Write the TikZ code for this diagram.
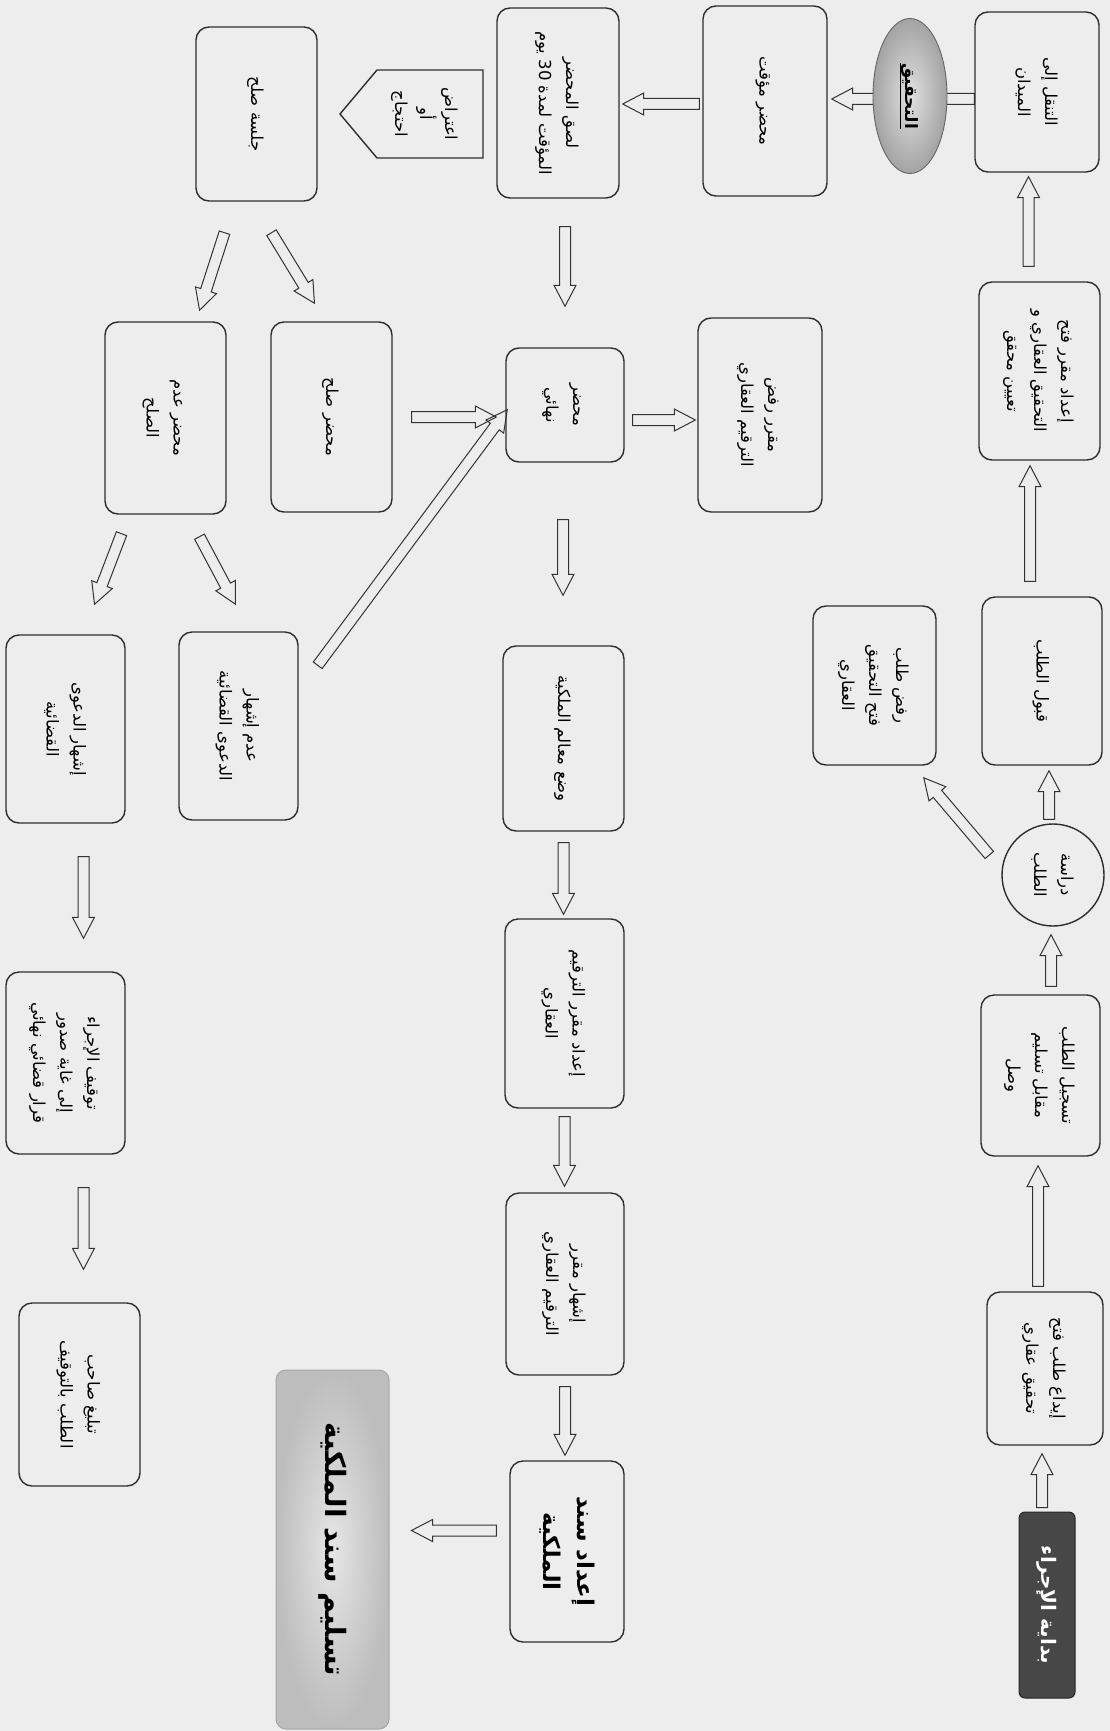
\documentclass[tikz,border=0pt]{standalone}
\usepackage{fontspec}
\usepackage{graphicx}
\usetikzlibrary{calc,shapes.geometric}
\TeXXeTstate=1
\newfontfamily\arabicfont[Script=Arabic]{DejaVu Sans}
\newcommand\AR[1]{\beginR #1\endR}
\newcommand\rtt[3]{\rotatebox{-90}{\arabicfont\fontsize{#1}{#2}\selectfont\begin{tabular}{@{}c@{}}#3\end{tabular}}}
\newcommand\rt[1]{\rtt{16.5}{27}{#1}}
\tikzset{
  box/.style={draw=black!82, line width=1.4pt, rounded corners=13pt, inner sep=0pt, text=black},
  arr/.style={draw=black!80, line width=1pt, line join=miter},
}
\newcommand\bx[6]{\node[box, minimum width={#4pt-#2pt}, minimum height={#5pt-#3pt}] (#1) at ({(#2+#4)/2},{(#3+#5)/2}) {#6};}
\newcommand\barrow[2]{%
  \draw[arr] let \p1=(#1), \p2=(#2), \n1={atan2(\y2-\y1,\x2-\x1)}, \n2={veclen(\x2-\x1,\y2-\y1)} in
  [shift={(\p1)}, rotate=\n1] (0pt,5.5pt) -- ({\n2-21pt},5.5pt) -- ({\n2-21pt},11pt) -- (\n2,0pt)
  -- ({\n2-21pt},-11pt) -- ({\n2-21pt},-5.5pt) -- (0pt,-5.5pt) -- cycle;}
\begin{document}
\begin{tikzpicture}[x=1pt,y=-1pt]
\useasboundingbox (0,0) rectangle (1110,1731);
\fill[black!7] (0,0) rectangle (1110,1731);

% right column
\bx{tanaqul}{975}{12}{1099}{172}{\rt{\AR{التنقل إلى}\\\AR{الميدان}}}
\bx{ifath}{979}{282}{1100}{460}{\rt{\AR{إعداد مقرر فتح}\\\AR{التحقيق العقاري و}\\\AR{تعيين محقق}}}
\bx{qabul}{982}{597}{1102}{765}{\rt{\AR{قبول الطلب}}}
\bx{rafdt}{813}{606}{936}{765}{\rt{\AR{رفض طلب}\\\AR{فتح التحقيق}\\\AR{العقاري}}}
\node[circle, draw=black!82, line width=1.4pt, minimum size=102pt, inner sep=0pt] (dirasa) at (1053,875) {\rt{\AR{دراسة}\\\AR{الطلب}}};
\bx{tasjil}{981}{995}{1100}{1156}{\rt{\AR{تسجيل الطلب}\\\AR{مقابل تسليم}\\\AR{وصل}}}
\bx{idaa}{987}{1292}{1103}{1445}{\rt{\AR{إيداع طلب فتح}\\\AR{تحقيق عقاري}}}
\node[draw=black!85, fill=black!72, rounded corners=6pt, line width=1pt, minimum width=56pt, minimum height=186pt, inner sep=0pt, text=white] (bidaya) at (1047,1605) {\rtt{20}{26}{\bfseries\AR{بداية الإجراء}}};

% top row
\bx{mm}{703}{6}{827}{196}{\rt{\AR{محضر مؤقت}}}
\bx{lasq}{497}{8}{619}{198}{\rt{\AR{لصق المحضر}\\\AR{المؤقت لمدة \beginL 30\endL{} يوم}}}
\draw[draw=black!82, line width=1.4pt, line join=miter] (483,70) -- (377,70) -- (340,114) -- (377,158) -- (483,158) -- cycle;
\node[inner sep=0pt] (itirad) at (425,114) {\rtt{16.5}{25}{\AR{اعتراض}\\\AR{أو}\\\AR{احتجاج}}};
\bx{jalsa}{196}{27}{317}{201}{\rt{\AR{جلسة صلح}}}

% middle column
\bx{nihai}{506}{348}{624}{462}{\rt{\AR{محضر}\\\AR{نهائي}}}
\bx{rtarqim}{698}{318}{822}{512}{\rt{\AR{مقرر رفض}\\\AR{الترقيم العقاري}}}
\bx{wad}{503}{646}{624}{831}{\rt{\AR{وضع معالم الملكية}}}
\bx{itarqim}{505}{919}{624}{1108}{\rt{\AR{إعداد مقرر الترقيم}\\\AR{العقاري}}}
\bx{ishm}{506}{1193}{624}{1375}{\rt{\AR{إشهار مقرر}\\\AR{الترقيم العقاري}}}
\bx{isanad}{510}{1461}{624}{1642}{\rtt{23}{34}{\bfseries\AR{إعداد سند}\\\bfseries\AR{الملكية}}}
\node[rounded corners=10pt, draw=black!35, line width=1pt, inner color=black!10, outer color=black!26, minimum width=113pt, minimum height=359pt, inner sep=0pt] (taslim) at (332.5,1549.5) {\rtt{28}{34}{\bfseries\AR{تسليم سند الملكية}}};

% left part
\bx{sulh}{271}{322}{392}{512}{\rt{\AR{محضر صلح}}}
\bx{adam}{105}{322}{226}{514}{\rt{\AR{محضر عدم}\\\AR{الصلح}}}
\bx{adamish}{179}{632}{298}{820}{\rt{\AR{عدم إشهار}\\\AR{الدعوى القضائية}}}
\bx{ishhar}{6}{635}{125}{823}{\rt{\AR{إشهار الدعوى}\\\AR{القضائية}}}
\bx{tawqif}{6}{972}{125}{1154}{\rt{\AR{توقيف الإجراء}\\\AR{إلى غاية صدور}\\\AR{قرار قضائي نهائي}}}
\bx{tabligh}{19}{1303}{140}{1486}{\rt{\AR{تبليغ صاحب}\\\AR{الطلب بالتوقيف}}}

% arrows
\barrow{$(bidaya.north)+(-5,-4)$}{$(bidaya.north |- idaa.south)+(-5,8)$}
\barrow{$(idaa.north)+(-7,-5)$}{$(idaa.north |- tasjil.south)+(-7,9)$}
\barrow{$(dirasa.south |- tasjil.north)+(-2,-8)$}{$(dirasa.south)+(-2,8)$}
\barrow{$(dirasa.north)+(-4,-4)$}{$(dirasa.north |- qabul.south)+(-4,5)$}
\barrow{$(dirasa.west)+(-12,-20)$}{$(rafdt.south east)+(-13,12)$}
\barrow{$(qabul.north)+(-12,-15)$}{$(qabul.north |- ifath.south)+(-12,5)$}
\barrow{$(ifath.north)+(-11,-15)$}{$(ifath.north |- tanaqul.south)+(-11,4)$}
\barrow{$(tanaqul.west)+(0,7)$}{$(tanaqul.west -| mm.east)+(4,7)$}
\barrow{$(mm.west)+(-3,3)$}{$(mm.west -| lasq.east)+(3,3)$}
\barrow{$(nihai.north |- lasq.south)+(0,28)$}{$(nihai.north)+(0,-41)$}
\barrow{$(nihai.east)+(8,15)$}{$(nihai.east -| rtarqim.west)+(-2,15)$}
\barrow{$(sulh.east)+(19,0)$}{$(sulh.east -| nihai.west)+(-9,0)$}
\barrow{$(jalsa.south)+(15,31)$}{$(sulh.north)+(-17,-18)$}
\barrow{$(jalsa.south)+(-32,31)$}{$(adam.north)+(34,-11)$}
\barrow{$(adam.south)+(34,22)$}{$(adamish.north)+(-3,-27)$}
\barrow{$(adam.south)+(-44,19)$}{$(ishhar.north)+(29,-30)$}
\barrow{$(adamish.north east)+(19,34)$}{$(nihai.south west)+(2,-53)$}
\barrow{$(ishhar.south)+(18,33)$}{$(ishhar.south |- tawqif.north)+(18,-33)$}
\barrow{$(tawqif.south)+(18,33)$}{$(tawqif.south |- tabligh.north)+(18,-33)$}
\barrow{$(nihai.south)+(-2,57)$}{$(nihai.south |- wad.north)+(-2,-50)$}
\barrow{$(wad.south)+(0,11)$}{$(wad.south |- itarqim.north)+(0,-4)$}
\barrow{$(itarqim.south)+(0,8)$}{$(itarqim.south |- ishm.north)+(0,-6)$}
\barrow{$(ishm.south)+(0,11)$}{$(ishm.south |- isanad.north)+(0,-5)$}
\barrow{$(isanad.west)+(-13,-21)$}{$(isanad.west -| taslim.east)+(22,-21)$}

% ellipse on top of the arrow
\node[ellipse, draw=black!60, line width=0.9pt, inner color=black!12, outer color=black!36, minimum width=74pt, minimum height=155pt, inner sep=0pt] (tahqiq) at (910,96) {\rtt{17}{22}{\bfseries\underline{\AR{التحقيق}}}};
\end{tikzpicture}
\end{document}
